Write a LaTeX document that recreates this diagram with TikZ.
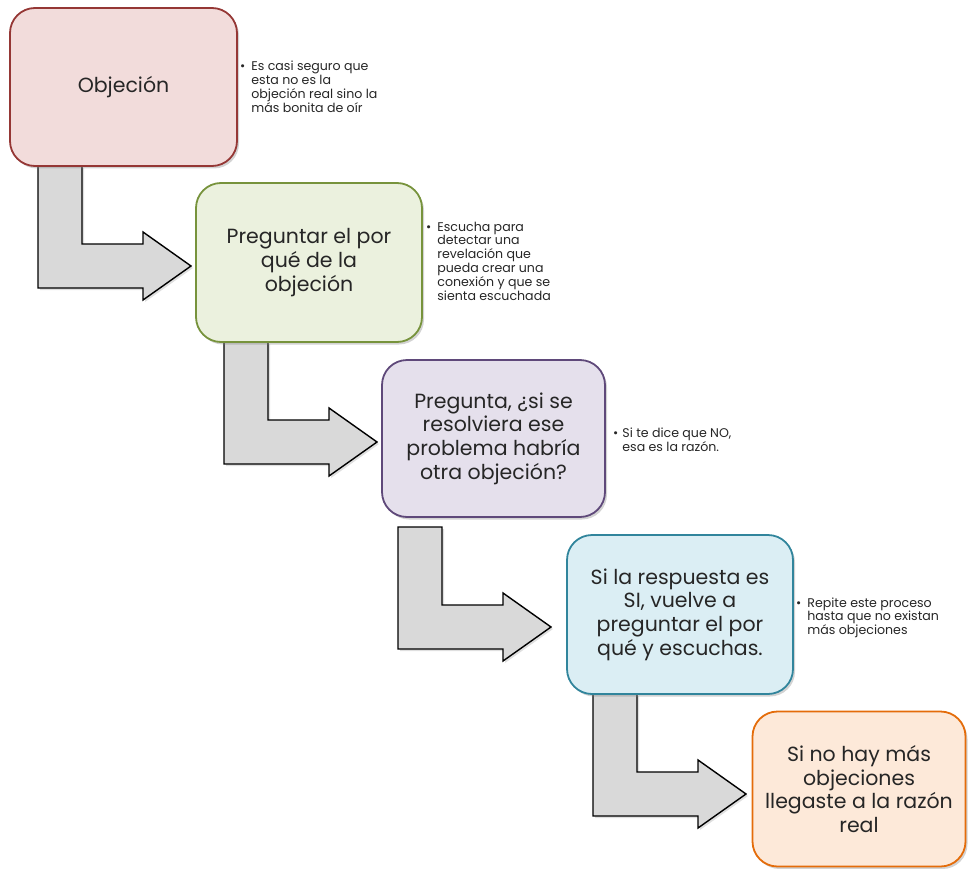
\documentclass[tikz,border=0pt]{standalone}
\usepackage{fontspec}
\setmainfont{Poppins}
\usetikzlibrary{shadows}
\definecolor{rosa}{HTML}{F2DCDB}
\definecolor{rojo}{HTML}{953735}
\definecolor{verdeclaro}{HTML}{EBF1DE}
\definecolor{verde}{HTML}{77933C}
\definecolor{lila}{HTML}{E5E0EC}
\definecolor{morado}{HTML}{5F497A}
\definecolor{celeste}{HTML}{DBEEF4}
\definecolor{azul}{HTML}{31859C}
\definecolor{durazno}{HTML}{FDE9D9}
\definecolor{naranja}{HTML}{E46C0A}
\definecolor{gris}{HTML}{D9D9D9}
\definecolor{texto}{HTML}{262626}
% flecha doblada: baja desde la caja y gira a la derecha
\newcommand{\flechabloque}[1]{%
  \draw[bloque] (#1) -- ++(44,0) -- ++(0,78) -- ++(61,0) -- ++(0,-12)
    -- ++(48,34) -- ++(-48,34) -- ++(0,-12) -- ++(-105,0) -- cycle;}

\begin{document}
\begin{tikzpicture}[x=1pt,y=-1pt]
        \tikzset{caja/.style={draw,rounded corners=25pt,line width=1.8pt,align=center,inner sep=0pt,
            text=texto,font=\fontsize{20.5}{23.7}\selectfont,
            drop shadow={opacity=0.35,shadow xshift=2pt,shadow yshift=-2.5pt}}}
        \tikzset{bloque/.style={draw=black,fill=gris,line width=1.4pt,line join=miter,
            drop shadow={opacity=0.25,shadow xshift=2pt,shadow yshift=-2pt}}}
        \tikzset{nota/.style={anchor=base west,inner sep=0pt,text=texto,font=\fontsize{12.6}{13.8}\selectfont}}
        \useasboundingbox (0,0) rectangle (968,869);
        % flechas
        \coordinate (f1) at (38,166);
        \coordinate (f2) at (224,342);
        \coordinate (f3) at (398,527);
        \coordinate (f4) at (593,694);
        \flechabloque{f1}
        \flechabloque{f2}
        \flechabloque{f3}
        \flechabloque{f4}
        % cajas
        \node[caja,fill=rosa,draw=rojo,minimum width=227pt,minimum height=158pt] (OB) at (123.5,87) {Objeción};
        \node[caja,fill=verdeclaro,draw=verde,minimum width=226pt,minimum height=159pt] (PP) at (309,262.5)
            {Preguntar el por\\qué de la\\objeción};
        \node[caja,fill=lila,draw=morado,minimum width=223pt,minimum height=157pt] (PR) at (493.5,438.5)
            {Pregunta, ¿si se\\resolviera ese\\problema habría\\otra objeción?};
        \node[caja,fill=celeste,draw=azul,minimum width=226pt,minimum height=159pt] (SI) at (680,614.5)
            {Si la respuesta es\\SI, vuelve a\\preguntar el por\\qué y escuchas.};
        \node[caja,fill=durazno,draw=naranja,minimum width=213pt,minimum height=155pt] (NO) at (859,789)
            {Si no hay más\\objeciones\\llegaste a la razón\\real};
        % notas
        \node[nota] (N1) at (240,71) {\textbullet\hspace{6pt}\begin{tabular}[t]{@{}l@{}}Es casi seguro que\\esta no es la\\objeción real sino la\\más bonita de oír\end{tabular}};
        \node[nota] (N2) at (426,231) {\textbullet\hspace{6pt}\begin{tabular}[t]{@{}l@{}}Escucha para\\detectar una\\revelación que\\pueda crear una\\conexión y que se\\sienta escuchada\end{tabular}};
        \node[nota] (N3) at (613,437) {\textbullet\hspace{4pt}\begin{tabular}[t]{@{}l@{}}Si te dice que NO,\\esa es la razón.\end{tabular}};
        \node[nota] (N4) at (796,607) {\textbullet\hspace{6pt}\begin{tabular}[t]{@{}l@{}}Repite este proceso\\hasta que no existan\\más objeciones\end{tabular}};
\end{tikzpicture}
\end{document}
